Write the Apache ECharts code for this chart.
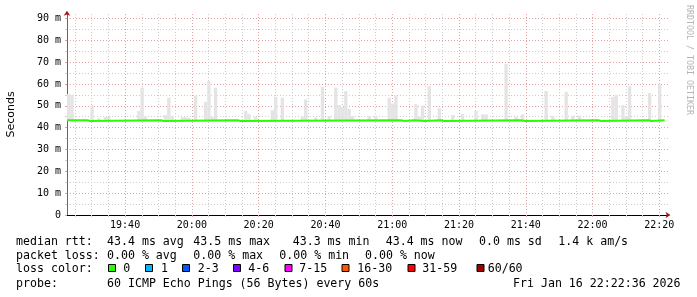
<!DOCTYPE html>
<html><head><meta charset="utf-8">
<script src="https://cdn.jsdelivr.net/npm/echarts@6/dist/echarts.min.js"></script>
<style>html,body{margin:0;padding:0;background:#fff}#c{width:697px;height:297px}</style>
</head><body><div id="c"></div>
<script>
// time in minutes since 19:00
var X_MIN = 22.6, X_MAX = 202.6;   // 19:22:36 .. 22:22:36
var Y_MAX = 92;                     // ms
var xMinorTicks = [25,30,35,40,45,50,55,60,65,70,75,80,85,90,95,100,105,110,115,120,125,130,135,140,145,150,155,160,165,170,175,180,185,190,195,200];
var xMajorTicks = [40,60,80,100,120,140,160,180,200];
var xTickLabels = ['19:40','20:00','20:20','20:40','21:00','21:20','21:40','22:00','22:20'];
var yMinorTicks = [5,15,25,35,45,55,65,75,85];
var yMajorTicks = [0,10,20,30,40,50,60,70,80,90];
var yTickLabels = ['0','10 m','20 m','30 m','40 m','50 m','60 m','70 m','80 m','90 m'];

// smoke: per-minute bin centre and max rtt (ms)
var smokeTimes = [23.1,24.1,30.1,32.1,34.1,35.1,44.1,45.1,46.1,52.1,53.1,54.1,57.1,58.1,59.1,61.1,64.1,65.1,66.1,67.1,76.1,77.1,79.1,84.1,85.1,87.1,93.1,94.1,97.1,99.1,101.1,103.1,104.1,105.1,106.1,107.1,108.1,113.1,115.1,119.1,120.1,121.1,127.1,128.1,129.1,131.1,134.1,138.1,141.1,145.1,147.1,148.1,154.1,157.1,159.1,166.1,168.1,172.1,174.1,176.1,186.1,187.1,189.1,190.1,191.1,197.1,200.1];
var smokeMax   = [55.3,55.0,50.2,44.3,44.9,44.9,47.6,58.3,45.1,45.8,53.7,45.4,44.7,44.7,44.5,54.6,51.8,61.3,44.8,58.3,47.6,46.2,44.9,48.0,54.1,53.7,45.1,52.9,44.6,58.7,45.2,58.3,50.4,49.5,56.7,48.6,45.3,45.3,45.5,53.7,51.1,54.6,50.7,45.0,50.1,59.0,48.9,45.8,46.2,47.6,46.1,46.1,69.2,44.8,46.1,56.8,45.4,56.3,45.5,45.5,54.1,54.9,50.3,45.3,59.0,55.8,59.8];

// median rtt: change points (value holds until next time)
var medianTimes  = [22.6,28.6,29.6,50.6,51.6,73.6,74.6,122.6,123.6,126.6,129.6,134.6,135.6,158.6,159.6,181.6,182.6,196.6,197.6,201.6];
var medianValues = [43.4,43.0,43.4,43.0,43.4,43.0,43.4,43.0,43.4,43.0,43.4,43.0,43.4,43.0,43.4,43.0,43.4,43.0,43.4,43.4];

var lossColors = ['#26ff00','#00b8ff','#0059ff','#7e00ff','#ff00ff','#ff5500','#ff0000','#a10000'];
var lossLabels = ['0','1','2-3','4-6','7-15','16-30','31-59','60/60'];

var row1 = ['median rtt:','43.4 ms avg','43.5 ms max','43.3 ms min','43.4 ms now','0.0 ms sd','1.4 k am/s'];
var row2 = ['packet loss:','0.00 % avg','0.00 % max','0.00 % min','0.00 % now'];
var row3Title = 'loss color:';
var row4 = ['probe:','60 ICMP Echo Pings (56 Bytes) every 60s','Fri Jan 16 22:22:36 2026'];
var credit = 'RRDTOOL / TOBI OETIKER';

function medianAt(t){
  var v = medianValues[0];
  for (var i=0;i<medianTimes.length;i++){ if (medianTimes[i] <= t) v = medianValues[i]; }
  return v;
}
var smokeData = smokeTimes.map(function(t,i){ return [t, smokeMax[i], medianAt(t)]; });
var lineData = medianTimes.map(function(t,i){ return [t, medianValues[i]]; });

var MONO = "'DejaVu Sans Mono', monospace";
var minorCol = '#cdcdcd', majorCol = '#e4a3a3', arrowCol = '#a01818';

var graphics = [];
function txt(x, y, s, extra){
  var o = {type:'text', x:x, y:y, silent:true,
    style:{text:s, font:"11.6px " + MONO, fill:'#000', textAlign:'left', textVerticalAlign:'bottom'}};
  if (extra) for (var k in extra) o.style[k] = extra[k];
  graphics.push(o);
}
var r1x = [16,107,193.3,292.7,385.7,479,558.3];
row1.forEach(function(s,i){ txt(r1x[i], 247.5, s); });
var r2x = [16,107,193.3,279.3,365];
row2.forEach(function(s,i){ txt(r2x[i], 261.5, s); });
txt(16, 275, row3Title);
var boxX = [108.5,145.5,182.5,233.5,285,342,408,477];
var labX = [123.3,161,197.7,248.3,299.3,357.3,422.3,487.7];
lossColors.forEach(function(c,i){
  graphics.push({type:'rect', silent:true, shape:{x:boxX[i], y:264.5, width:7, height:7},
    style:{fill:c, stroke:'#000', lineWidth:1}});
  txt(labX[i], 275, lossLabels[i]);
});
var r4x = [16,107,513];
row4.forEach(function(s,i){ txt(r4x[i], 289.5, s); });
graphics.push({type:'text', x:689, y:5, rotation:-Math.PI/2, silent:true,
  style:{text:credit, font:"8.3px " + MONO, fill:'#b4b4b4', textAlign:'left', textVerticalAlign:'middle'}});

var chart = echarts.init(document.getElementById('c'), null, {renderer:'canvas'});
chart.setOption({
  animation:false,
  backgroundColor:'#fff',
  grid:{left:67, right:29, top:14, bottom:82, containLabel:false, outerBoundsMode:'none'},
  xAxis:[
    {type:'value', min:X_MIN, max:X_MAX, position:'bottom',
     axisLine:{show:true, lineStyle:{color:arrowCol, width:1}, symbol:['none','arrow'], symbolSize:[5,5], symbolOffset:[0,2.5]},
     axisTick:{show:true, customValues:xMinorTicks, length:2, lineStyle:{color:minorCol}},
     axisLabel:{show:false},
     splitLine:{show:true, lineStyle:{color:minorCol, width:1, type:[1,2]}}},
    {type:'value', min:X_MIN, max:X_MAX, position:'bottom',
     axisLine:{show:true, lineStyle:{color:'#000', width:1}},
     axisTick:{show:true, customValues:xMajorTicks, length:2, lineStyle:{color:majorCol}},
     axisLabel:{show:true, customValues:xMajorTicks, margin:5, color:'#000', fontFamily:MONO, fontSize:10,
       formatter:function(v){ var i = xMajorTicks.indexOf(Math.round(v)); return i>=0 ? xTickLabels[i] : ''; }},
     splitLine:{show:true, lineStyle:{color:majorCol, width:1, type:[1,2]}}}
  ],
  yAxis:[
    {type:'value', min:0, max:Y_MAX, position:'left',
     axisLine:{show:true, lineStyle:{color:arrowCol, width:1}, symbol:['none','arrow'], symbolSize:[5,5], symbolOffset:[0,3.3]},
     axisTick:{show:true, customValues:yMinorTicks, length:2, lineStyle:{color:minorCol}},
     axisLabel:{show:false},
     splitLine:{show:true, lineStyle:{color:minorCol, width:1, type:[1,2]}}},
    {type:'value', min:0, max:Y_MAX, position:'left',
     name:'Seconds', nameLocation:'middle', nameGap:50, nameRotate:90,
     nameTextStyle:{fontFamily:"'DejaVu Sans', sans-serif", fontSize:11, color:'#000'},
     axisLine:{show:true, lineStyle:{color:'#666', width:1}},
     axisTick:{show:true, customValues:yMajorTicks, length:2, lineStyle:{color:majorCol}},
     axisLabel:{show:true, customValues:yMajorTicks, margin:6, color:'#000', fontFamily:MONO, fontSize:10,
       formatter:function(v){ var i = yMajorTicks.indexOf(Math.round(v)); return i>=0 ? yTickLabels[i] : ''; }},
     splitLine:{show:true, lineStyle:{color:majorCol, width:1, type:[1,2]}}}
  ],
  series:[
    {type:'custom', xAxisIndex:0, yAxisIndex:0, clip:true, z:2, data:smokeData,
     renderItem:function(params, api){
       var t = api.value(0), top = api.value(1), base = api.value(2);
       var p1 = api.coord([t-0.5, top]), p2 = api.coord([t+0.5, base]);
       return {type:'rect', shape:{x:p1[0], y:p1[1], width:p2[0]-p1[0], height:p2[1]-p1[1]},
               style:{fill:'#e4e4e4'}};
     }},
    {type:'line', xAxisIndex:0, yAxisIndex:0, step:'end', symbol:'none', z:3, data:lineData,
     lineStyle:{color:'#26ff00', width:2}}
  ],
  graphic:graphics
});
</script></body></html>
